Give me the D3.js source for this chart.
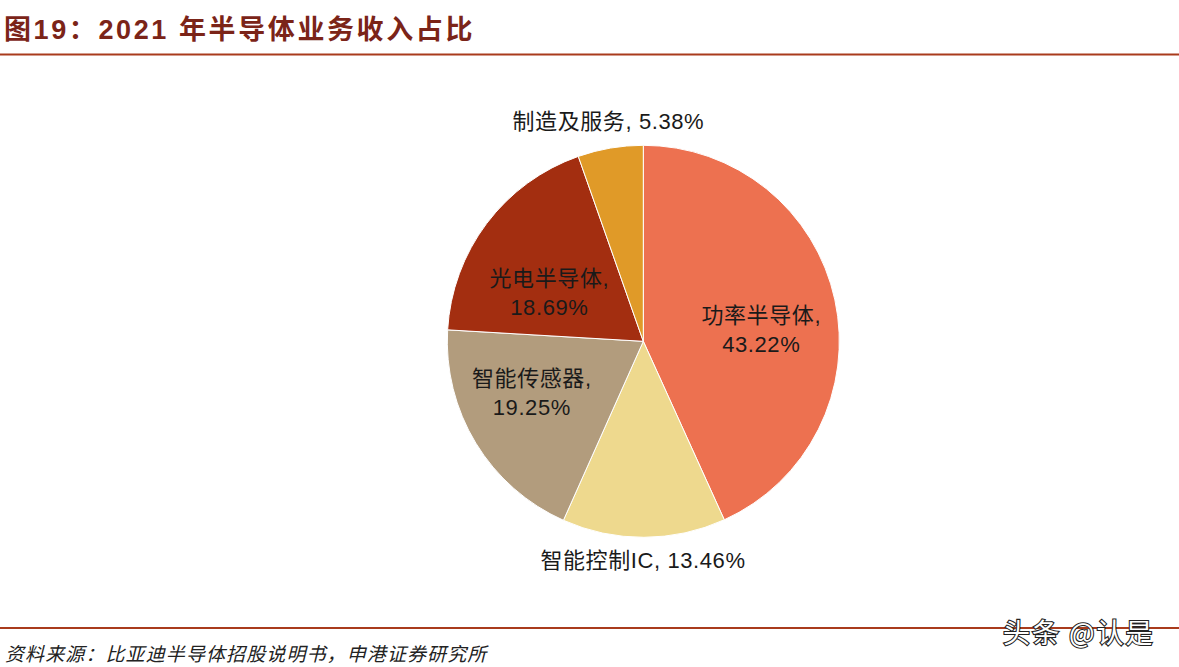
<!DOCTYPE html>
<html>
<head>
<meta charset="utf-8">
<script src="https://cdn.jsdelivr.net/npm/d3@7"></script>
<style>
  html, body { margin: 0; padding: 0; background: #fff; }
  svg { display: block; }
</style>
</head>
<body>
<svg id="chart" width="1179" height="667"></svg>
<script>
const categories = ["功率半导体", "智能控制IC", "智能传感器", "光电半导体", "制造及服务"];
const values = [43.22, 13.46, 19.25, 18.69, 5.38];
const valueLabels = ["43.22%", "13.46%", "19.25%", "18.69%", "5.38%"];
const colors = ["#ED7150", "#EED98E", "#B29C7D", "#A32E10", "#E09A28"];
const titleText = "图19：2021 年半导体业务收入占比";
const sourceText = "资料来源：比亚迪半导体招股说明书，申港证券研究所";
const watermarkText = "头条 @认是";

const svg = d3.select("#chart");
const W = 1179, H = 667;
const font = "'Liberation Sans', Arial, 'Noto Sans CJK SC', sans-serif";

// Title
svg.append("text")
  .attr("x", 4).attr("y", 39)
  .attr("font-family", font)
  .attr("font-size", 27).attr("font-weight", "bold")
  .attr("letter-spacing", 2.6)
  .attr("fill", "#7B2418")
  .text(titleText);
svg.append("line")
  .attr("x1", 0).attr("x2", W).attr("y1", 54.5).attr("y2", 54.5)
  .attr("stroke", "#A93B1C").attr("stroke-width", 2);

// Pie
const cx = 643.3, cy = 341.3, R = 196;
const g = svg.append("g").attr("transform", `translate(${cx},${cy})`);
const data = categories.map((c, i) => ({ name: c, value: values[i], label: valueLabels[i], color: colors[i] }));
const pie = d3.pie().sort(null).value(d => d.value);
const arc = d3.arc().innerRadius(0).outerRadius(R);
const arcs = pie(data);
g.selectAll("path").data(arcs).join("path")
  .attr("d", arc)
  .attr("fill", d => d.data.color)
  .attr("stroke", "#fff").attr("stroke-width", 1);

// Labels (radial placement from slice mid-angle, with small nudges)
const labelFs = 22;
function labelAt(i, rFrac, lines, dx = 0, dy = 0) {
  const a = arcs[i];
  const mid = (a.startAngle + a.endAngle) / 2;
  const r = R * rFrac;
  const x = Math.sin(mid) * r + dx;
  const y = -Math.cos(mid) * r + dy;
  const t = g.append("text")
    .attr("font-family", font).attr("font-size", labelFs)
    .attr("letter-spacing", 0.6)
    .attr("fill", "#1a1a1a").attr("text-anchor", "middle");
  lines.forEach((ln, k) => {
    t.append("tspan").attr("x", x)
      .attr("y", y + (k - (lines.length - 1) / 2) * 28.5)
      .attr("dy", "0.36em")
      .text(ln);
  });
}
labelAt(0, 0.6, [categories[0] + ",", valueLabels[0]], 3, 13);
labelAt(1, 1.125, [categories[1] + ", " + valueLabels[1]], -1, -2);
labelAt(2, 0.6, [categories[2] + ",", valueLabels[2]], -11, -10);
labelAt(3, 0.6, [categories[3] + ",", valueLabels[3]], 0, 22);
labelAt(4, 1.12, [categories[4] + ", " + valueLabels[4]], 2, -4);

// Footer
svg.append("line")
  .attr("x1", 0).attr("x2", W).attr("y1", 628).attr("y2", 628)
  .attr("stroke", "#A93B1C").attr("stroke-width", 2);
svg.append("text")
  .attr("x", 5).attr("y", 661)
  .attr("font-family", "'Noto Sans CJK SC', sans-serif")
  .attr("font-size", 19).attr("letter-spacing", 1.1)
  .attr("font-style", "italic")
  .attr("fill", "#222")
  .text(sourceText);

// Watermark
svg.append("text")
  .attr("x", 1003).attr("y", 643)
  .attr("font-family", "'Noto Sans CJK SC', sans-serif")
  .attr("font-size", 27).attr("letter-spacing", 2)
  .attr("fill", "#fff").attr("stroke", "#222").attr("stroke-width", 2.2)
  .attr("paint-order", "stroke")
  .text(watermarkText);
</script>
</body>
</html>
